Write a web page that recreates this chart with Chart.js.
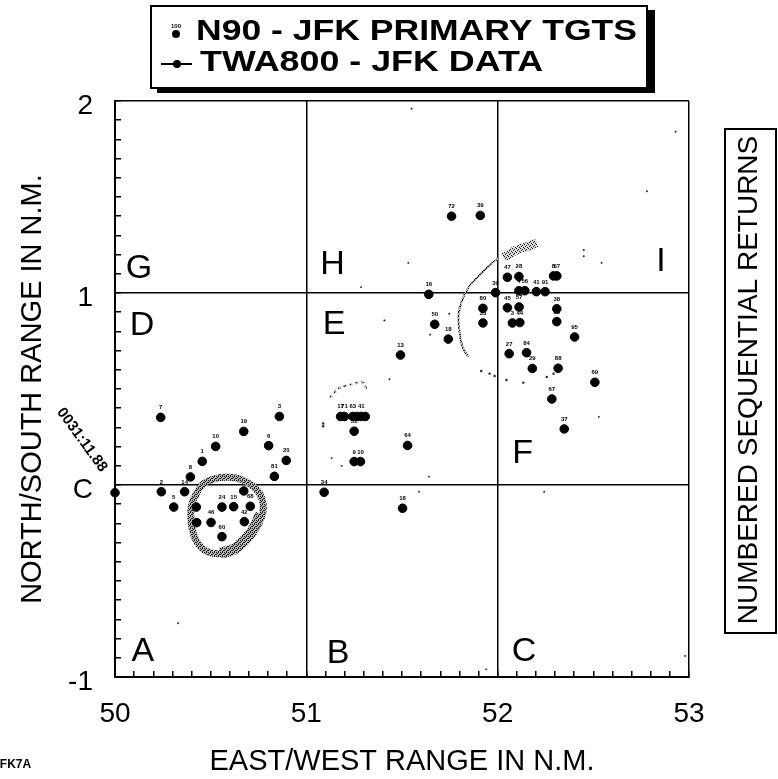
<!DOCTYPE html>
<html>
<head>
<meta charset="utf-8">
<style>
html, body { margin: 0; padding: 0; background: #fff; }
#wrap { width: 778px; height: 779px; }
</style>
<script src="https://cdn.jsdelivr.net/npm/chart.js@4"></script>
</head>
<body>
<div id="wrap"><canvas id="radar" width="778" height="779"></canvas></div>
<script>
// numbered returns
const returnX = [50.0, 50.239, 50.859, 50.673, 50.526, 50.803, 50.895, 50.456, 50.833, 50.394, 50.242, 50.364, 50.673,
    50.307, 50.425, 50.559, 50.62, 50.707, 50.427, 50.502, 50.676, 50.559,
    51.759, 51.909, 51.64, 51.989, 52.051, 52.111, 52.292, 52.309, 52.111, 52.142, 52.202, 52.248, 52.051, 52.112,
    51.923, 51.923, 51.671, 51.742, 52.077, 52.116, 52.309, 52.309, 52.402, 51.492, 52.06, 52.151, 52.181, 52.316,
    52.508, 52.283, 52.348, 51.179, 51.199, 51.243, 51.264, 51.287, 51.308, 51.25, 51.25, 51.283, 51.529, 51.093, 51.503];
const returnY = [-0.04, 0.352, 0.357, 0.279, 0.201, 0.205, 0.128, 0.123, 0.045, 0.042, -0.035, -0.035, -0.031,
    -0.115, -0.115, -0.115, -0.113, -0.111, -0.196, -0.195, -0.191, -0.269,
    1.4, 1.404, 0.993, 1.002, 1.082, 1.086, 1.089, 1.089, 1.012, 1.012, 1.007, 1.007, 0.923, 0.927,
    0.92, 0.844, 0.837, 0.76, 0.844, 0.846, 0.918, 0.851, 0.771, 0.677, 0.684, 0.689, 0.607, 0.608,
    0.535, 0.448, 0.292, 0.357, 0.357, 0.357, 0.357, 0.357, 0.357, 0.28, 0.122, 0.122, 0.206, -0.038, -0.121];
const returnLabels = ['', '7', '3', '19', '10', '6', '20', '1', '81', '8', '2', '14', '',
    '5', '', '24', '15', '68', '', '46', '42', '60',
    '72', '39', '16', '30', '47', '28', '8', '67', '4', '56', '41', '91', '45', '57',
    '80', '33', '50', '18', '3', '44', '38', '83', '95', '13', '27', '84', '29', '88',
    '69', '67', '37', '17', '71', '63', '', '41', '', '52', '9', '10', '64', '34', '18'];

// stippled tracks
const ringX = [50.427, 50.462, 50.523, 50.592, 50.662, 50.732, 50.77, 50.772, 50.74, 50.688, 50.618, 50.549, 50.479, 50.427, 50.401, 50.396, 50.406, 50.427];
const ringY = [-0.042, 0.007, 0.033, 0.04, 0.028, -0.016, -0.077, -0.146, -0.216, -0.285, -0.337, -0.358, -0.346, -0.294, -0.216, -0.138, -0.085, -0.042];
const ringLowX = [50.76, 50.73, 50.68, 50.62, 50.55];
const ringLowY = [-0.15, -0.22, -0.285, -0.335, -0.355];
const arcX = [51.847, 51.817, 51.8, 51.796, 51.814, 51.844, 51.879, 51.94, 52.002];
const arcY = [0.668, 0.717, 0.804, 0.892, 0.962, 1.023, 1.066, 1.128, 1.18];
const blobX = [52.03, 52.098, 52.151, 52.204];
const blobY = [1.185, 1.224, 1.241, 1.262];
const capX = [51.123, 51.176, 51.237, 51.299, 51.316];
const capY = [0.455, 0.507, 0.524, 0.533, 0.49];
const dotsX = [51.914, 51.958, 51.984, 52.046, 52.134, 52.257, 52.292, 51.088, 51.088];
const dotsY = [0.594, 0.58, 0.568, 0.547, 0.533, 0.563, 0.58, 0.306, 0.32];

// scan specks
const speckX = [51.286, 51.533, 51.408, 52.45, 52.45, 52.543, 51.647, 51.747, 51.434, 52.529, 52.243, 51.589, 51.641, 51.132, 51.185,
    52.93, 52.78, 53.05, 53.05, 50.33, 49.88, 52.98, 53.06, 53.03, 52.86, 51.94, 49.87, 51.55, 53.02];
const speckY = [1.031, 1.157, 0.857, 1.224, 1.192, 1.157, 0.783, 0.892, 0.551, 0.355, -0.035, -0.035, 0.044, 0.14, 0.1,
    1.84, 1.53, 1.48, 1.78, -0.72, -0.64, -0.89, -1.01, -1.45, -1.44, -0.96, 1.46, 1.96, -1.3];

// sector letters
const sectorLetters = ['A', 'B', 'C', 'D', 'E', 'F', 'G', 'H', 'I'];
const sectorX = [50.146, 51.166, 52.138, 50.141, 51.145, 52.13, 50.125, 51.137, 52.854];
const sectorY = [-0.859, -0.87, -0.859, 0.839, 0.844, 0.172, 1.135, 1.156, 1.172];

const xTickLabels = ['50', '51', '52', '53'];
const yTickLabels = ['-1', 'C', '1', '2'];

const legendRows = ['N90 - JFK PRIMARY TGTS', 'TWA800 - JFK DATA'];
const xTitle = 'EAST/WEST RANGE IN N.M.';
const yTitle = 'NORTH/SOUTH RANGE IN N.M.';
const sideTitle = 'NUMBERED SEQUENTIAL RETURNS';
const stamp = '0031:11.88';
const figureTag = "'FK7A";

const FONT = '"Liberation Sans", Arial, sans-serif';

function zip(xs, ys) {
    return xs.map((x, i) => ({ x: x, y: ys[i] }));
}

function isWhole(v) {
    return Math.abs(v - Math.round(v)) < 1e-6;
}

// stipple used for the gray tracks
function makeStipple(back, spots) {
    const c = document.createElement('canvas');
    c.width = 4;
    c.height = 4;
    const g = c.getContext('2d');
    g.fillStyle = back;
    g.fillRect(0, 0, 4, 4);
    g.fillStyle = '#111';
    spots.forEach(p => g.fillRect(p[0], p[1], 1, 1));
    return g.createPattern(c, 'repeat');
}
const stipple = makeStipple('#bdbdbd', [[0, 0], [2, 0], [1, 1], [3, 2], [0, 2], [2, 3]]);
const lightStipple = makeStipple('#dddddd', [[0, 0], [2, 1], [1, 2], [3, 3]]);

function track(label, xs, ys, width, tension, color) {
    return {
        label: label,
        data: zip(xs, ys),
        showLine: true,
        borderColor: color || stipple,
        borderWidth: width,
        pointRadius: 0,
        tension: tension,
        clip: false
    };
}

// text stretched sideways to the given width, the scan is wider than the font
function stretchedText(ctx, text, x, y, width) {
    const natural = ctx.measureText(text).width;
    ctx.save();
    ctx.translate(x, y);
    ctx.scale(width / natural, 1);
    ctx.fillText(text, 0, 0);
    ctx.restore();
}

const annotations = {
    id: 'annotations',
    afterDatasetsDraw(chart) {
        const ctx = chart.ctx;
        const sx = chart.scales.x;
        const sy = chart.scales.y;
        ctx.save();
        ctx.fillStyle = '#000';

        // tiny sequence numbers above the returns
        ctx.font = 'bold 6px ' + FONT;
        ctx.textAlign = 'center';
        ctx.textBaseline = 'alphabetic';
        returnLabels.forEach((t, i) => {
            ctx.fillText(t, sx.getPixelForValue(returnX[i]), sy.getPixelForValue(returnY[i]) - 8);
        });

        // sector letters
        ctx.font = '34px ' + FONT;
        ctx.textBaseline = 'middle';
        sectorLetters.forEach((t, i) => {
            ctx.fillText(t, sx.getPixelForValue(sectorX[i]), sy.getPixelForValue(sectorY[i]) + 2);
        });

        // legend box
        ctx.lineWidth = 2;
        ctx.strokeRect(151, 6, 496, 82);
        ctx.fillRect(157, 88, 498, 5);
        ctx.fillRect(648, 10, 7, 83);
        ctx.textAlign = 'left';
        ctx.textBaseline = 'alphabetic';
        ctx.font = 'bold 29px ' + FONT;
        stretchedText(ctx, legendRows[0], 196, 40, 441);
        stretchedText(ctx, legendRows[1], 200, 71, 343);
        ctx.beginPath();
        ctx.arc(176, 34, 4, 0, Math.PI * 2);
        ctx.fill();
        ctx.font = 'bold 6px ' + FONT;
        ctx.textAlign = 'center';
        ctx.fillText('100', 176, 28);
        ctx.beginPath();
        ctx.arc(177, 64, 4, 0, Math.PI * 2);
        ctx.fill();
        ctx.lineWidth = 2;
        ctx.beginPath();
        ctx.moveTo(161, 64);
        ctx.lineTo(192, 64);
        ctx.stroke();

        // side box
        ctx.lineWidth = 2;
        ctx.strokeRect(725, 129, 51, 504);
        ctx.save();
        ctx.translate(757, 380);
        ctx.rotate(-Math.PI / 2);
        ctx.textAlign = 'center';
        ctx.font = '500 28px ' + FONT;
        ctx.fillText(sideTitle, 0, 0, 490);
        ctx.restore();

        // time stamp on the first return
        ctx.save();
        ctx.translate(82, 440);
        ctx.rotate(54 * Math.PI / 180);
        ctx.font = 'bold 15px ' + FONT;
        ctx.textAlign = 'center';
        ctx.textBaseline = 'middle';
        ctx.fillText(stamp, 0, 0, 86);
        ctx.restore();

        ctx.font = 'bold 12px ' + FONT;
        ctx.textAlign = 'left';
        ctx.fillText(figureTag, -3, 768);
        ctx.restore();
    }
};

const capTrack = track('cap', capX, capY, 2, 0.3);
capTrack.borderDash = [3, 3];

new Chart(document.getElementById('radar'), {
    type: 'scatter',
    plugins: [annotations],
    data: {
        datasets: [
            {
                label: legendRows[0],
                data: zip(returnX, returnY),
                backgroundColor: '#000',
                borderColor: '#000',
                pointRadius: 4.3,
                clip: false
            },
            track(legendRows[1], ringX, ringY, 7, 0.4),
            track('ring low', ringLowX, ringLowY, 11, 0.4),
            track('arc', arcX, arcY, 2, 0.4),
            track('arc end', blobX, blobY, 9, 0.3, lightStipple),
            capTrack,
            {
                label: 'stray',
                data: zip(dotsX, dotsY),
                backgroundColor: '#333',
                pointRadius: 1.2,
                clip: false
            },
            {
                label: 'specks',
                data: zip(speckX, speckY),
                backgroundColor: '#222',
                pointRadius: 0.9,
                clip: false
            }
        ]
    },
    options: {
        responsive: false,
        animation: false,
        layout: { padding: { left: 0, right: 89, top: 101, bottom: 0 } },
        plugins: {
            legend: { display: false },
            tooltip: { enabled: false }
        },
        scales: {
            x: {
                type: 'linear',
                min: 50,
                max: 53,
                afterFit: s => { s.height = 779 - 677; },
                border: { color: '#000', width: 2 },
                grid: {
                    color: c => (isWhole(c.tick.value) ? '#000' : 'rgba(0,0,0,0)'),
                    tickColor: '#000',
                    tickLength: -6,
                    lineWidth: 1.5
                },
                ticks: {
                    stepSize: 0.1,
                    autoSkip: false,
                    maxRotation: 0,
                    padding: 26,
                    color: '#000',
                    font: { family: FONT, size: 28 },
                    callback: v => (isWhole(v) ? xTickLabels[Math.round(v) - 50] : '')
                },
                title: {
                    display: true,
                    text: xTitle,
                    color: '#000',
                    font: { family: FONT, size: 29 },
                    padding: { top: 8, bottom: 0 }
                }
            },
            y: {
                type: 'linear',
                min: -1,
                max: 2,
                afterFit: s => { s.width = 115; },
                border: { color: '#000', width: 2 },
                grid: {
                    color: c => (isWhole(c.tick.value) ? '#000' : 'rgba(0,0,0,0)'),
                    tickColor: '#000',
                    tickLength: -6,
                    lineWidth: 1.5
                },
                ticks: {
                    stepSize: 0.1,
                    autoSkip: false,
                    padding: 28,
                    labelOffset: 5,
                    color: '#000',
                    font: { family: FONT, size: 28 },
                    callback: v => (isWhole(v) ? yTickLabels[Math.round(v) + 1] : '')
                },
                title: {
                    display: true,
                    text: yTitle,
                    color: '#000',
                    font: { family: FONT, size: 29, weight: '500' },
                    padding: { top: 16, bottom: 0 }
                }
            }
        }
    }
});
</script>
</body>
</html>
